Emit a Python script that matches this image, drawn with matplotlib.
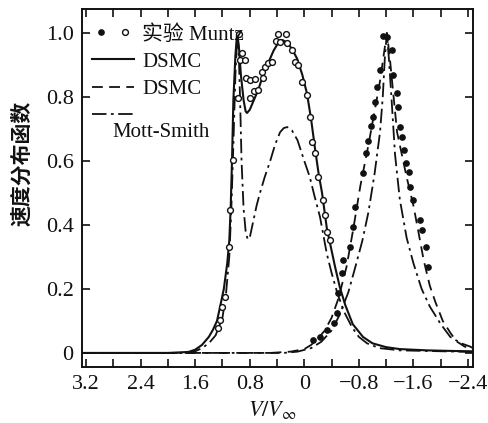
import matplotlib
matplotlib.use("Agg")
import matplotlib.pyplot as plt
from matplotlib.ticker import FixedLocator
from matplotlib.legend_handler import HandlerTuple

plt.rcParams['font.family'] = ['Liberation Serif', 'Noto Sans CJK SC', 'DejaVu Sans']
plt.rcParams['mathtext.fontset'] = 'stix'

# ---------------- data ----------------
# DSMC (solid), upstream distribution
dsmc_up_x = [3.26, 2.0, 1.7, 1.6, 1.5, 1.4, 1.34, 1.28, 1.235, 1.18, 1.13, 1.10, 1.08, 1.06,
             1.04, 1.01, 0.985, 0.96, 0.93, 0.89, 0.86, 0.84, 0.80, 0.75, 0.68, 0.60, 0.53,
             0.45, 0.38, 0.32, 0.25, 0.18, 0.106, 0.03, -0.04, -0.10, -0.16, -0.21, -0.26,
             -0.33, -0.40, -0.45, -0.52, -0.60, -0.71, -0.86, -1.0, -1.2, -1.4, -1.8, -2.2, -2.47]
dsmc_up_y = [0.0, 0.0, 0.003, 0.01, 0.025, 0.05, 0.072, 0.10, 0.144, 0.20, 0.28, 0.35, 0.45, 0.60,
             0.79, 0.93, 1.0, 0.96, 0.87, 0.79, 0.755, 0.75, 0.76, 0.785, 0.82, 0.87, 0.906,
             0.945, 0.97, 0.978, 0.97, 0.95, 0.92, 0.87, 0.81, 0.73, 0.634, 0.56, 0.50,
             0.39, 0.32, 0.27, 0.206, 0.15, 0.09, 0.05, 0.03, 0.018, 0.012, 0.008, 0.006, 0.005]

# Mott-Smith (dash-dot), upstream
ms_up_x = [3.26, 1.7, 1.6, 1.5, 1.4, 1.3, 1.2, 1.15, 1.10, 1.07, 1.04, 1.01, 0.98, 0.96, 0.94,
           0.92, 0.89, 0.86, 0.83, 0.80, 0.75, 0.70, 0.65, 0.58, 0.50, 0.43, 0.355, 0.30, 0.25,
           0.18, 0.10, 0.0, -0.08, -0.15, -0.23, -0.33, -0.40, -0.48, -0.58, -0.70, -0.80,
           -0.92, -1.1, -1.4, -2.47]
ms_up_y = [0.0, 0.0, 0.005, 0.015, 0.03, 0.055, 0.11, 0.18, 0.30, 0.45, 0.65, 0.87, 1.0, 0.93, 0.78,
           0.60, 0.45, 0.38, 0.355, 0.36, 0.41, 0.46, 0.50, 0.55, 0.60, 0.65, 0.69, 0.703, 0.706,
           0.695, 0.665, 0.60, 0.55, 0.49, 0.425, 0.31, 0.25, 0.19, 0.13, 0.08, 0.05,
           0.03, 0.015, 0.008, 0.003]

# DSMC (dashed), downstream
dsmc_dn_x = [3.26, 0.5, 0.2, 0.0, -0.1, -0.2, -0.3, -0.4, -0.5, -0.62, -0.72, -0.82, -0.94, -1.06,
             -1.11, -1.17, -1.21, -1.25, -1.30, -1.36, -1.43, -1.50, -1.60, -1.68, -1.75, -1.84,
             -1.92, -2.03, -2.15, -2.24, -2.35, -2.47]
dsmc_dn_y = [0.0, 0.0, 0.004, 0.012, 0.025, 0.045, 0.07, 0.11, 0.17, 0.27, 0.39, 0.52, 0.65, 0.79,
             0.85, 0.94, 1.0, 0.93, 0.82, 0.69, 0.62, 0.55, 0.46, 0.37, 0.29, 0.21,
             0.16, 0.10, 0.06, 0.035, 0.02, 0.01]

# Mott-Smith (dash-dot), downstream
ms_dn_x = [3.26, 0.3, 0.1, -0.1, -0.25, -0.4, -0.52, -0.646, -0.75, -0.85, -0.94, -1.03, -1.11,
           -1.15, -1.18, -1.21, -1.24, -1.28, -1.33, -1.40, -1.50, -1.60, -1.72, -1.84, -2.0,
           -2.14, -2.3, -2.43, -2.47]
ms_dn_y = [0.0, 0.0, 0.004, 0.015, 0.035, 0.07, 0.12, 0.19, 0.27, 0.35, 0.44, 0.56, 0.69,
           0.80, 0.92, 1.0, 0.92, 0.79, 0.62, 0.48, 0.36, 0.28, 0.20, 0.145, 0.09,
           0.05, 0.03, 0.02, 0.015]

# Muntz experiment, upstream (open circles)
muntz_up_x = [1.26, 1.235, 1.21, 1.16, 1.10, 1.09, 1.04, 0.976, 0.952, 0.94, 0.917, 0.87, 0.854,
              0.795, 0.795, 0.732, 0.722, 0.674, 0.624, 0.60, 0.575, 0.527, 0.477, 0.41, 0.38,
              0.355, 0.267, 0.25, 0.184, 0.136, 0.097, 0.038, -0.036, -0.085, -0.11, -0.158,
              -0.206, -0.28, -0.304, -0.33, -0.378]
muntz_up_y = [0.077, 0.103, 0.145, 0.176, 0.332, 0.447, 0.603, 0.796, 0.997, 0.916, 0.937, 0.916,
              0.858, 0.853, 0.796, 0.82, 0.855, 0.822, 0.879, 0.86, 0.895, 0.905, 0.91, 0.976,
              0.996, 0.973, 0.996, 0.968, 0.947, 0.91, 0.9, 0.848, 0.806, 0.738, 0.66, 0.624,
              0.551, 0.478, 0.431, 0.379, 0.353]

# Muntz experiment, downstream (filled dots)
muntz_dn_x = [-0.13, -0.23, -0.33, -0.43, -0.476, -0.50, -0.55, -0.573, -0.67, -0.72, -0.744,
              -0.856, -0.905, -0.94, -0.975, -1.0, -1.04, -1.06, -1.11, -1.16, -1.21, -1.28,
              -1.30, -1.355, -1.38, -1.40, -1.43, -1.46, -1.49, -1.53, -1.55, -1.6, -1.70,
              -1.72, -1.79, -1.82]
muntz_dn_y = [0.04, 0.051, 0.072, 0.093, 0.124, 0.186, 0.249, 0.29, 0.332, 0.395, 0.457,
              0.561, 0.624, 0.663, 0.709, 0.736, 0.785, 0.832, 0.884, 0.99, 0.988, 0.947,
              0.869, 0.811, 0.768, 0.707, 0.676, 0.634, 0.593, 0.567, 0.52, 0.478, 0.416,
              0.384, 0.332, 0.27]

x_ticks = [3.2, 2.4, 1.6, 0.8, 0.0, -0.8, -1.6, -2.4]
x_tick_labels = ["3.2", "2.4", "1.6", "0.8", "0", "\u22120.8", "\u22121.6", "\u22122.4"]
x_minor = [2.8, 2.0, 1.2, 0.4, -0.4, -1.2, -2.0]
y_ticks = [0.0, 0.2, 0.4, 0.6, 0.8, 1.0]
y_tick_labels = ["0", "0.2", "0.4", "0.6", "0.8", "1.0"]

label_muntz = "实验 Muntz"
label_dsmc1 = "DSMC"
label_dsmc2 = "DSMC"
label_ms = "Mott-Smith"
x_label = r"$V/V_{\infty}$"
y_label = "速度分布函数"

# ---------------- plot ----------------
ink = "#111111"
fig = plt.figure(figsize=(4.88, 4.23), dpi=100)
ax = fig.add_axes([82 / 488, 1 - 367 / 423, (473 - 82) / 488, (367 - 9) / 423])

l_solid, = ax.plot(dsmc_up_x, dsmc_up_y, color=ink, lw=1.5, ls='-')
l_dash, = ax.plot(dsmc_dn_x, dsmc_dn_y, color=ink, lw=1.3, ls=(0, (6, 3.5)))
l_dd, = ax.plot(ms_up_x, ms_up_y, color=ink, lw=1.3, ls=(0, (8, 2.5, 1.5, 2.5)))
ax.plot(ms_dn_x, ms_dn_y, color=ink, lw=1.3, ls=(0, (8, 2.5, 1.5, 2.5)))
m_up, = ax.plot(muntz_up_x, muntz_up_y, ls='none', marker='o', ms=4.2, mfc='white',
                mec=ink, mew=1.0)
m_dn, = ax.plot(muntz_dn_x, muntz_dn_y, ls='none', marker='o', ms=3.8, mfc=ink, mec=ink)

ax.set_xlim(3.259, -2.473)
ax.set_ylim(-0.044, 1.075)

ax.xaxis.set_major_locator(FixedLocator(x_ticks))
ax.set_xticklabels(x_tick_labels)
ax.xaxis.set_minor_locator(FixedLocator(x_minor))
ax.yaxis.set_major_locator(FixedLocator(y_ticks))
ax.set_yticklabels(y_tick_labels)
ax.tick_params(which='both', direction='in', top=True, right=True, length=6, width=1.2,
               labelsize=16, color=ink, labelcolor=ink, pad=6)
for s in ax.spines.values():
    s.set_linewidth(1.4)
    s.set_color(ink)

ax.set_xlabel(x_label, fontsize=16, color=ink)
ax.xaxis.set_label_coords(0.488, -0.088)
ax.set_ylabel(y_label, fontsize=15, fontweight='bold', color=ink,
              family=['Noto Sans CJK SC'])
ax.yaxis.set_label_coords(-0.128, 0.57)

leg = ax.legend([(m_dn, m_up), l_solid, l_dash, l_dd],
                [label_muntz, label_dsmc1, label_dsmc2, ""],
                handler_map={tuple: HandlerTuple(ndivide=None, pad=0.3)},
                loc='upper left', bbox_to_anchor=(0.0, 0.985), frameon=False,
                fontsize=15, handlelength=2.0, handletextpad=0.4, labelspacing=0.37,
                borderaxespad=0.3, borderpad=0.2, numpoints=1)
for t in leg.get_texts():
    t.set_color(ink)
ax.text(0.077, 0.656, label_ms, transform=ax.transAxes, fontsize=15, color=ink,
        ha='left', va='center')

fig.savefig("out.png", dpi=100)
